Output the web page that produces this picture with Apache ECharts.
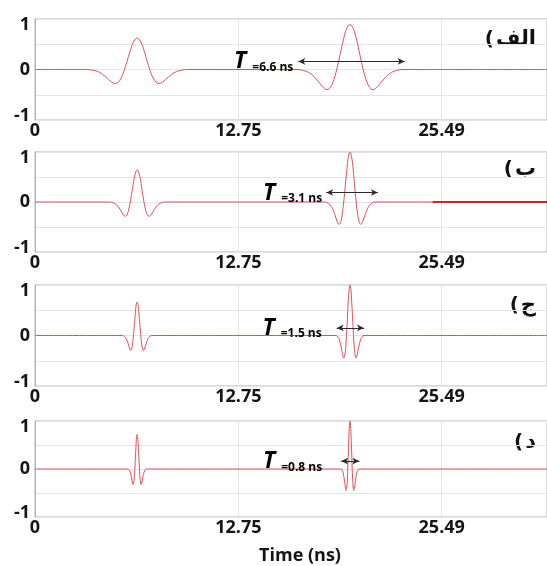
<!DOCTYPE html>
<html><head><meta charset="utf-8">
<script src="https://cdn.jsdelivr.net/npm/echarts@6/dist/echarts.min.js"></script>
<style>html,body{margin:0;padding:0;background:#fff}#c{width:547px;height:566px}</style>
</head><body><div id="c"></div>
<script>
// ---- tick labels and annotations ----
const xTickLabels = ['0', '12.75', '25.49'];
const panelLabels = ['الف', 'ب', 'ج', 'د'];
const periodLabels = ['=6.6 ns', '=3.1 ns', '=1.5 ns', '=0.8 ns'];
const arrowStart = [16.50, 18.25, 18.91, 19.19];
const arrowEnd = [23.17, 21.49, 20.62, 20.33];
const arrowLevel = [0.16, 0.19, 0.15, 0.165];

// ---- panel A (T = 6.6 ns) ----
const timeA = [0,
  3.24, 3.64, 4.03, 4.42, 4.82, 5.03, 5.22, 5.41, 5.61, 5.81, 6.01, 6.20, 6.40,
  6.60, 6.80, 6.99, 7.19, 7.39, 7.59, 7.77, 7.98, 8.38, 8.77, 9.17, 9.56,
  16.42, 16.84, 17.25, 17.67, 18.08, 18.30, 18.50, 18.70, 18.91, 19.12, 19.33, 19.53, 19.74,
  19.95, 20.16, 20.36, 20.57, 20.78, 20.99, 21.18, 21.40, 21.82, 22.23, 22.65, 23.06,
  32.09];
const valueA = [0,
  0, -0.016, -0.055, -0.143, -0.252, -0.277, -0.252, -0.16, 0, 0.205, 0.41, 0.563, 0.62,
  0.563, 0.41, 0.205, 0, -0.16, -0.252, -0.277, -0.252, -0.143, -0.055, -0.016, 0,
  0, -0.022, -0.079, -0.206, -0.361, -0.397, -0.361, -0.23, 0, 0.294, 0.589, 0.808, 0.89,
  0.808, 0.589, 0.294, 0, -0.23, -0.361, -0.397, -0.361, -0.206, -0.079, -0.022, 0,
  0];

// ---- panel B (T = 3.1 ns) ----
const timeB = [0,
  4.68, 4.90, 5.11, 5.33, 5.54, 5.66, 5.76, 5.86, 5.97, 6.08, 6.19, 6.29, 6.40,
  6.51, 6.62, 6.72, 6.83, 6.94, 7.05, 7.14, 7.26, 7.48, 7.69, 7.91, 8.12,
  18.18, 18.38, 18.57, 18.77, 18.96, 19.07, 19.16, 19.25, 19.35, 19.45, 19.55, 19.64, 19.74,
  19.84, 19.94, 20.03, 20.13, 20.23, 20.33, 20.42, 20.52, 20.72, 20.91, 21.11, 21.30,
  32.09];
const valueB = [0,
  0, -0.016, -0.057, -0.148, -0.26, -0.285, -0.26, -0.165, 0, 0.211, 0.424, 0.581, 0.64,
  0.581, 0.424, 0.211, 0, -0.165, -0.26, -0.285, -0.26, -0.148, -0.057, -0.016, 0,
  0, -0.025, -0.089, -0.231, -0.406, -0.446, -0.406, -0.258, 0, 0.33, 0.662, 0.908, 1,
  0.908, 0.662, 0.33, 0, -0.258, -0.406, -0.446, -0.406, -0.231, -0.089, -0.025, 0,
  0];
const boldSegB = [[24.92, 0], [32.09, 0]];

// ---- panel C (T = 1.5 ns) ----
const timeC = [0,
  5.48, 5.60, 5.71, 5.83, 5.94, 6.00, 6.06, 6.11, 6.17, 6.23, 6.29, 6.34, 6.40,
  6.46, 6.51, 6.57, 6.63, 6.69, 6.75, 6.80, 6.86, 6.98, 7.09, 7.21, 7.32,
  18.86, 18.97, 19.08, 19.19, 19.30, 19.36, 19.41, 19.47, 19.52, 19.58, 19.63, 19.69, 19.74,
  19.80, 19.85, 19.91, 19.96, 20.02, 20.07, 20.12, 20.18, 20.29, 20.40, 20.51, 20.62,
  32.09];
const valueC = [0,
  0, -0.017, -0.059, -0.152, -0.268, -0.294, -0.268, -0.17, 0, 0.218, 0.437, 0.599, 0.66,
  0.599, 0.437, 0.218, 0, -0.17, -0.268, -0.294, -0.268, -0.152, -0.059, -0.017, 0,
  0, -0.025, -0.089, -0.231, -0.406, -0.446, -0.406, -0.258, 0, 0.33, 0.662, 0.908, 1,
  0.908, 0.662, 0.33, 0, -0.258, -0.406, -0.446, -0.406, -0.231, -0.089, -0.025, 0,
  0];

// ---- panel D (T = 0.8 ns) ----
const timeD = [0,
  5.82, 5.89, 5.97, 6.04, 6.11, 6.15, 6.18, 6.22, 6.26, 6.29, 6.33, 6.36, 6.40,
  6.44, 6.47, 6.51, 6.55, 6.58, 6.62, 6.65, 6.69, 6.76, 6.84, 6.91, 6.98,
  19.18, 19.25, 19.32, 19.39, 19.46, 19.50, 19.53, 19.57, 19.60, 19.64, 19.67, 19.71, 19.74,
  19.78, 19.81, 19.85, 19.88, 19.92, 19.95, 19.98, 20.02, 20.09, 20.16, 20.23, 20.30,
  32.09];
const valueD = [0,
  0, -0.018, -0.064, -0.166, -0.292, -0.321, -0.292, -0.186, 0, 0.238, 0.477, 0.654, 0.72,
  0.654, 0.477, 0.238, 0, -0.186, -0.292, -0.321, -0.292, -0.166, -0.064, -0.018, 0,
  0, -0.025, -0.089, -0.231, -0.406, -0.446, -0.406, -0.258, 0, 0.33, 0.662, 0.908, 1,
  0.908, 0.662, 0.33, 0, -0.258, -0.406, -0.446, -0.406, -0.231, -0.089, -0.025, 0,
  0];

const times = [timeA, timeB, timeC, timeD];
const values = [valueA, valueB, valueC, valueD];

// ---- layout ----
const gridTop = [19, 152, 285, 421];
const gridHeight = [101, 100, 101, 100];
const labelGap = [5, 4, 15, 19];
const panelLabelY = [43, 173, 309, 446];
const FONT = '"Open Sans", "Liberation Sans", sans-serif';
const AFONT = '"DejaVu Sans", sans-serif';
const XINT = 12.745;

const chart = echarts.init(document.getElementById('c'), null, {renderer: 'canvas'});

const grids = [], xAxes = [], yAxes = [], series = [], graphics = [];
for (let i = 0; i < 4; i++) {
  grids.push({left: 35, right: -1, top: gridTop[i], height: gridHeight[i],
    show: true, borderColor: '#b4b4b4', borderWidth: 1, backgroundColor: 'transparent'});
  xAxes.push({
    type: 'value', gridIndex: i, min: 0, max: 32.09, interval: XINT,
    axisLine: {show: false}, axisTick: {show: false},
    splitLine: {show: true, lineStyle: {color: '#e4e4e4', width: 1}},
    axisLabel: {
      show: true, margin: 2, showMaxLabel: false,
      fontFamily: FONT, fontWeight: 'bold', fontSize: 18, color: '#151515',
      formatter: function (v) {
        const k = Math.round(v / XINT);
        return (Math.abs(v - k * XINT) < 1e-6 && xTickLabels[k] !== undefined) ? xTickLabels[k] : '';
      }
    },
    name: i === 3 ? 'Time (ns)' : '', nameLocation: 'middle', nameGap: 30,
    nameTextStyle: {fontFamily: FONT, fontWeight: 'bold', fontSize: 18, color: '#151515', padding: [0, 0, 0, 18]}
  });
  yAxes.push({
    type: 'value', gridIndex: i, min: -1, max: 1, interval: 0.5,
    axisLine: {show: true, lineStyle: {color: '#b4b4b4'}}, axisTick: {show: false},
    splitLine: {show: true, lineStyle: {color: '#e4e4e4', width: 1}},
    axisLabel: {
      margin: 5, fontFamily: FONT, fontWeight: 'bold', fontSize: 18, color: '#151515',
      formatter: function (v) {
        if (v === 1) return '{top|1}';
        if (v === -1) return '{bot|-1}';
        if (v === 0) return '{mid|0}';
        return '';
      },
      rich: {
        top: {fontFamily: FONT, fontWeight: 'bold', fontSize: 18, color: '#151515', padding: [12, 0, 0, 0]},
        mid: {fontFamily: FONT, fontWeight: 'bold', fontSize: 18, color: '#151515'},
        bot: {fontFamily: FONT, fontWeight: 'bold', fontSize: 18, color: '#151515', padding: [0, 0, 8, 0]}
      }
    }
  });
  const data = times[i].map((t, j) => [t, values[i][j]]);
  series.push({
    type: 'line', xAxisIndex: i, yAxisIndex: i, data: data,
    showSymbol: false, symbol: 'none', smooth: 0.4,
    lineStyle: {color: '#dc5058', width: 1}, silent: true, animation: false,
    markLine: {
      silent: true, animation: false,
      symbol: ['arrow', 'arrow'], symbolSize: [5, 7],
      lineStyle: {color: '#2a2a2a', width: 1, type: 'solid'},
      label: {
        show: true, position: 'start', distance: labelGap[i],
        formatter: '{t|T}{s|' + periodLabels[i] + '}',
        rich: {
          t: {fontFamily: FONT, fontWeight: 'bold', fontStyle: 'italic', fontSize: 23, color: '#000', verticalAlign: 'bottom', lineHeight: 24},
          s: {fontFamily: FONT, fontWeight: 'bold', fontSize: 12, color: '#000', verticalAlign: 'bottom', lineHeight: 24, padding: [0, 0, 0, 6]}
        }
      },
      data: [[{coord: [arrowStart[i], arrowLevel[i]]}, {coord: [arrowEnd[i], arrowLevel[i]]}]]
    }
  });
  graphics.push({
    type: 'text', right: 11, top: panelLabelY[i] - 14, silent: true,
    style: {
      text: '{p|(}{a|' + panelLabels[i] + '}',
      rich: {
        p: {fill: '#111', fontFamily: AFONT, fontWeight: 'bold', fontSize: 20, padding: [0, 2, 0, 0]},
        a: {fill: '#111', fontFamily: AFONT, fontWeight: 'bold', fontSize: 21}
      },
      textAlign: 'right'
    }
  });
}
series.push({
  type: 'line', xAxisIndex: 1, yAxisIndex: 1, data: boldSegB,
  showSymbol: false, symbol: 'none', lineStyle: {color: '#e01e1e', width: 2}, silent: true, animation: false
});

chart.setOption({
  animation: false,
  backgroundColor: '#fff',
  grid: grids, xAxis: xAxes, yAxis: yAxes, series: series, graphic: graphics
});
</script>
</body></html>
